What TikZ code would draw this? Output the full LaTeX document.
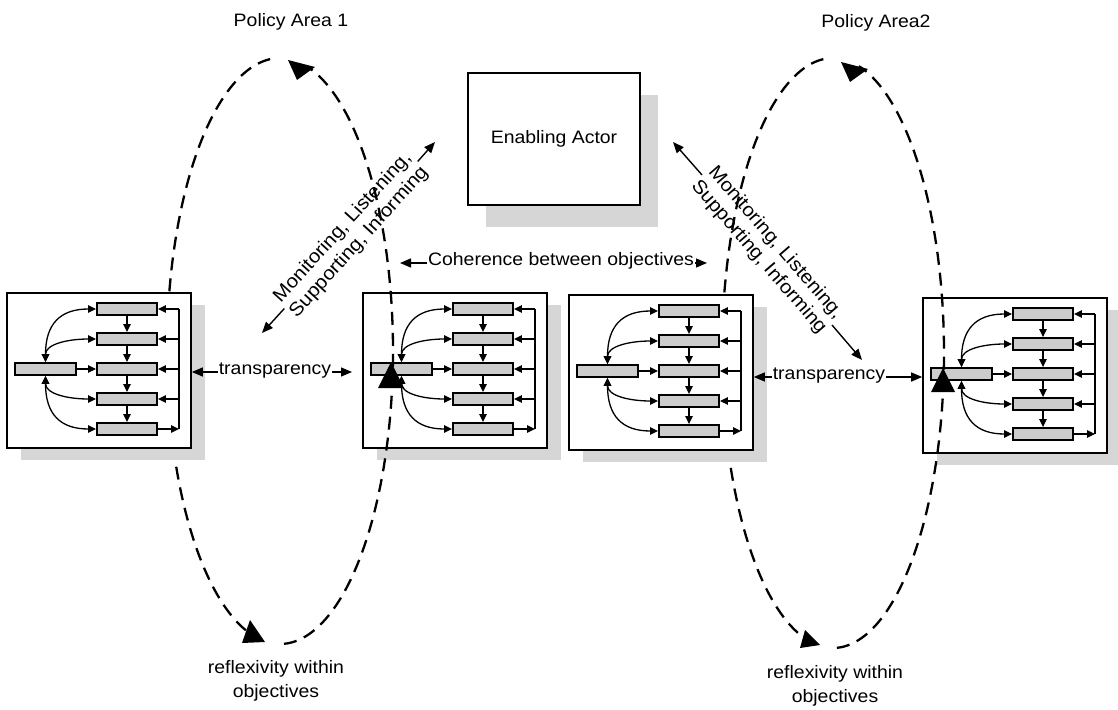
\documentclass[tikz,border=0pt]{standalone}
\usepackage{fontspec}
\setmainfont{Liberation Sans}[FakeStretch=1.08]
\usetikzlibrary{arrows.meta}
\definecolor{shadowgray}{gray}{0.84}
\definecolor{cellfill}{gray}{0.80}

\tikzset{
  txt/.style={font=\fontsize{18}{24}\selectfont, align=center, inner sep=1pt},
  diag/.style={font=\fontsize{19}{22}\selectfont, align=center, inner sep=1pt},
  online/.style={txt, text height=0.52em, text depth=0pt},
  panelbox/.style={draw, fill=white, line width=1.6pt, minimum width=184pt, minimum height=155pt, inner sep=0pt},
  cell/.style={draw, fill=cellfill, line width=1.9pt, minimum width=60pt, minimum height=12pt, inner sep=0pt},
  small/.style={line width=1.3pt, -{Triangle[length=8pt,width=7.5pt]}},
  smallboth/.style={line width=1.3pt, {Triangle[length=8pt,width=7.5pt]}-{Triangle[length=8pt,width=7.5pt]}},
  tip/.style={line width=1.4pt, -{Triangle[length=11pt,width=9pt]}},
  loopline/.style={line width=2.3pt, dash pattern=on 13pt off 8pt},
  panel/.pic={
    \fill[shadowgray] (14,12) rectangle (198,167);
    \node[panelbox] (-frame) at (92,77.5) {};
    \node[cell, minimum width=61pt] (-src) at (38.5,76) {};
    \foreach \i/\y in {1/16,2/46,3/76,4/106,5/136}{
      \node[cell] (-c\i) at (120,\y) {};
      \coordinate (-b\i) at (172,\y);
    }
    \foreach \i/\j in {1/2,2/3,3/4,4/5} \draw[small] (-c\i) -- (-c\j);
    \draw[small] (-src) -- (-c3);
    \draw[small] (-c5) -- (-b5);
    \draw[line width=1.3pt] (-b5) -- (-b1);
    \foreach \i in {1,2,3,4} \draw[small] (-b\i) -- (-c\i);
    \draw[smallboth] (-src.north) .. controls +(0,-38) and +(-36,0) .. (-c1.west);
    \draw[smallboth] (-src.north) .. controls +(0,-18) and +(-28,0) .. (-c2.west);
    \draw[smallboth] (-src.south) .. controls +(0,18) and +(-28,0) .. (-c4.west);
    \draw[smallboth] (-src.south) .. controls +(0,38) and +(-36,0) .. (-c5.west);
  }
}

\begin{document}
\begin{tikzpicture}[x=1pt,y=-1pt]
\useasboundingbox (0,0) rectangle (1118,709);

% left halves of the two reflexivity loops, behind the panels
\draw[loopline] plot[domain=95:252.5, samples=90, variable=\x]
  ({280+113*cos(\x)},{351-293*sin(\x)});
\fill (265,642) -- (242,643) -- (250,620) -- cycle;
\draw[loopline] plot[domain=95:254, samples=90, variable=\x]
  ({833+111*cos(\x)},{353-295*sin(\x)});
\fill (820,645) -- (800,648) -- (805,630) -- cycle;

% enabling actor
\fill[shadowgray] (486,95) rectangle (658,227);
\node[draw, fill=white, line width=1.8pt, minimum width=172pt, minimum height=132pt, txt] (ea) at (554,139) {Enabling Actor};

% the four objective panels
\pic (p1) at (7,293) {panel};
\pic (p2) at (363,293) {panel};
\pic (p3) at (569,295) {panel};
\pic (p4) at (923,298) {panel};

% right halves of the loops, over the panels
\draw[loopline] plot[domain=-88:76.7, samples=90, variable=\x]
  ({280+113*cos(\x)},{351-293*sin(\x)});
\fill (288,60) -- (297,80) -- (315,67) -- cycle;
\draw[loopline] plot[domain=-88:76.5, samples=90, variable=\x]
  ({833+111*cos(\x)},{353-295*sin(\x)});
\fill (841,62) -- (850,82) -- (868,69) -- cycle;
\fill (391,362) -- (378,388) -- (404,388) -- cycle;
\fill (943,368) -- (931,392) -- (955,392) -- cycle;

% titles
\node[txt] (pa1) at (291,22) {Policy Area 1};
\node[txt] (pa2) at (876,23) {Policy Area2};
\node[txt] (rf1) at (276,681) {reflexivity within\\objectives};
\node[txt] (rf2) at (835,686) {reflexivity within\\objectives};

% transparency links
\node[online] (tr1) at (275,372) {transparency};
\coordinate (tr1r) at (352,372);
\draw[tip] (tr1.west) -- (tr1.west -| p1-frame.east);
\draw[tip] (tr1.east) -- (tr1r);
\node[online] (tr2) at (829,377) {transparency};
\draw[tip] (tr2.west) -- (tr2.west -| p3-frame.east);
\draw[tip] (tr2.east) -- (tr2.east -| p4-frame.west);

% coherence link
\node[online] (coh) at (561,263) {Coherence between objectives};
\coordinate (cohl) at (400,263);
\coordinate (cohr) at (707,263);
\draw[tip] (coh.west) -- (cohl);
\draw[tip] (coh.east) -- (cohr);

% monitoring links to the enabling actor
\node[diag, rotate=47.8] (monl) at (351,235) {Monitoring, Listening,\\Supporting, Informing};
\coordinate (ml1) at (262,333);
\coordinate (ml2) at (435,142);
\draw[tip] (monl.west) -- (ml1);
\draw[tip] (monl.east) -- (ml2);
\node[diag, rotate=-49.1] (monr) at (767,250) {Monitoring, Listening,\\Supporting, Informing};
\coordinate (mr1) at (673,142);
\coordinate (mr2) at (862,360);
\draw[tip] (monr.west) -- (mr1);
\draw[tip] (monr.east) -- (mr2);
\end{tikzpicture}
\end{document}
